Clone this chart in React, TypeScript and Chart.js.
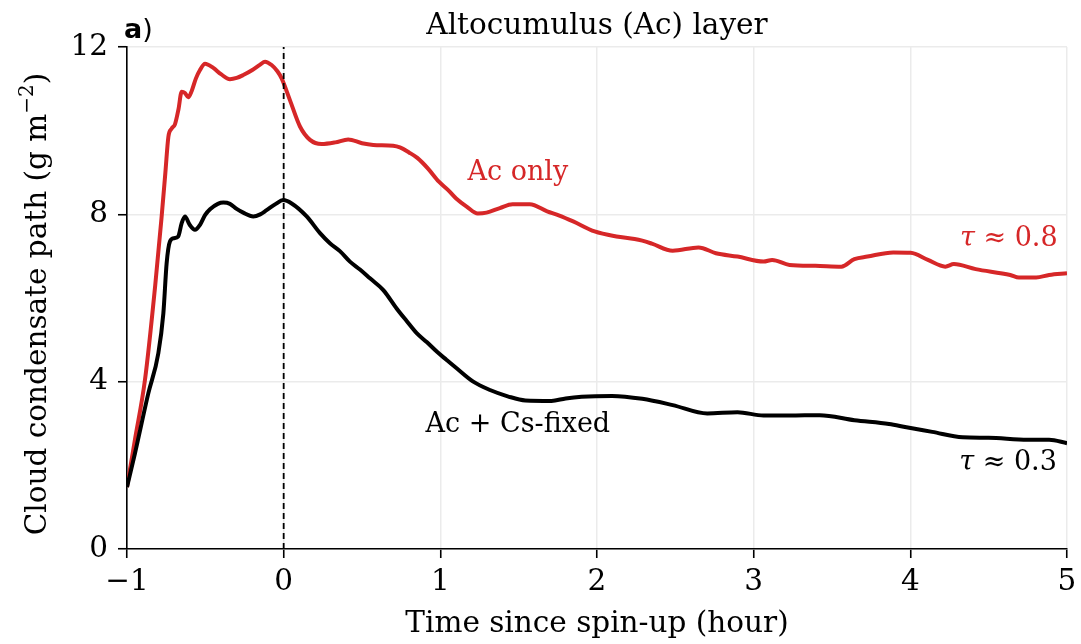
import React, { useEffect, useRef } from "react";
import { Chart, registerables } from "chart.js";

Chart.register(...registerables);

// Ac only (red)
const redTimes = [
  -1.0, -0.95, -0.885, -0.82, -0.78, -0.755, -0.736, -0.715, -0.694, -0.672, -0.651, -0.63, -0.609, -0.587,
  -0.56, -0.534, -0.502, -0.449, -0.4, -0.343, -0.3, -0.258, -0.2, -0.15, -0.119, -0.077, -0.04, -0.013,
  0.04, 0.104, 0.168, 0.242, 0.33, 0.412, 0.5, 0.572, 0.699, 0.742, 0.8, 0.853, 0.92, 0.991, 1.05, 1.101,
  1.17, 1.239, 1.295, 1.38, 1.461, 1.571, 1.682, 1.76, 1.848, 1.985, 2.124, 2.24, 2.289, 2.35, 2.483, 2.648,
  2.759, 2.897, 3.063, 3.118, 3.229, 3.394, 3.56, 3.643, 3.726, 3.891, 4.002, 4.112, 4.223, 4.278, 4.417,
  4.638, 4.693, 4.803, 4.886, 5.0,
];
const redValues = [
  1.48, 2.6, 4.05, 6.3, 7.9, 9.0, 9.85, 10.05, 10.15, 10.5, 10.93, 10.9, 10.8, 10.95,
  11.25, 11.45, 11.6, 11.5, 11.35, 11.23, 11.26, 11.33, 11.45, 11.58, 11.65, 11.57, 11.42, 11.25,
  10.73, 10.1, 9.78, 9.68, 9.72, 9.79, 9.7, 9.66, 9.64, 9.6, 9.48, 9.35, 9.1, 8.78, 8.58, 8.38,
  8.18, 8.02, 8.04, 8.15, 8.24, 8.24, 8.07, 7.97, 7.83, 7.59, 7.47, 7.41, 7.37, 7.3, 7.13, 7.21,
  7.07, 6.99, 6.87, 6.91, 6.79, 6.77, 6.75, 6.93, 6.99, 7.09, 7.08, 6.91, 6.75, 6.81, 6.69,
  6.55, 6.49, 6.49, 6.55, 6.59,
];

// Ac + Cs-fixed (black)
const blackTimes = [
  -1.0, -0.949, -0.864, -0.8, -0.768, -0.747, -0.726, -0.7, -0.673, -0.651, -0.63, -0.6, -0.566, -0.534,
  -0.502, -0.47, -0.42, -0.385, -0.343, -0.3, -0.258, -0.194, -0.15, -0.109, -0.05, -0.003, 0.051, 0.147,
  0.232, 0.295, 0.359, 0.423, 0.487, 0.551, 0.636, 0.721, 0.785, 0.849, 0.915, 0.977, 1.04, 1.104, 1.21,
  1.317, 1.43, 1.543, 1.709, 1.8, 1.902, 2.096, 2.289, 2.483, 2.704, 2.897, 3.063, 3.229, 3.422, 3.643,
  3.864, 3.975, 4.14, 4.334, 4.499, 4.748, 4.886, 5.0,
];
const blackValues = [
  1.48, 2.29, 3.72, 4.68, 5.63, 6.83, 7.35, 7.43, 7.47, 7.79, 7.95, 7.75, 7.63, 7.75,
  7.98, 8.12, 8.25, 8.28, 8.25, 8.13, 8.04, 7.95, 8.0, 8.1, 8.25, 8.34, 8.26, 7.95,
  7.55, 7.31, 7.12, 6.87, 6.68, 6.47, 6.19, 5.75, 5.45, 5.16, 4.94, 4.72, 4.52, 4.32, 4.0,
  3.8, 3.65, 3.55, 3.54, 3.6, 3.64, 3.66, 3.59, 3.44, 3.24, 3.27, 3.19, 3.19, 3.2, 3.08,
  2.99, 2.91, 2.8, 2.67, 2.66, 2.61, 2.61, 2.53,
];

// spin-up marker (dashed vertical line)
const spinupTimes = [0, 0];
const spinupValues = [0, 12];

// axis ticks
const xTicks = [-1, 0, 1, 2, 3, 4, 5];
const yTicks = [0, 4, 8, 12];

// text labels
const titleText = "Altocumulus (Ac) layer";
const xTitle = "Time since spin-up (hour)";
const yTitleMain = "Cloud condensate path (g m";
const yTitleSup = "−2";
const annotTexts = ["Ac only", "Ac + Cs-fixed"];
const annotX = [1.495, 1.495];
const annotY = [8.99, 2.96];
const annotColors = ["#d62728", "#000000"];
const tauValues = ["0.8", "0.3"];
const tauX = [4.94, 4.935];
const tauY = [7.4, 2.06];
const tauColors = ["#d62728", "#000000"];

const RED = "#d62728";
const SERIF = "'DejaVu Serif', serif";
const LABEL_SIZE = 29.5;

const toPts = (xs: number[], ys: number[]) => xs.map((x, i) => ({ x, y: ys[i] }));

export default function App() {
  const ref = useRef<HTMLCanvasElement>(null);
  useEffect(() => {
    const canvas = ref.current;
    if (!canvas) return;
    const textPlugin = {
      id: "textPlugin",
      afterDraw(chart: any) {
        const ctx = chart.ctx as CanvasRenderingContext2D;
        const xs = chart.scales.x;
        const ys = chart.scales.y;
        const ca = chart.chartArea;
        ctx.save();
        ctx.fillStyle = "#000";
        ctx.textBaseline = "middle";
        // title
        ctx.font = `${LABEL_SIZE}px ${SERIF}`;
        ctx.textAlign = "center";
        ctx.fillText(titleText, (ca.left + ca.right) / 2, 26);
        // panel label
        ctx.textAlign = "left";
        ctx.font = `bold 27px 'DejaVu Sans', sans-serif`;
        ctx.fillText("a", 124, 31);
        const aw = ctx.measureText("a").width;
        ctx.font = `27px 'DejaVu Sans', sans-serif`;
        ctx.fillText(")", 124 + aw, 31);
        // x title
        ctx.font = `${LABEL_SIZE}px ${SERIF}`;
        ctx.textAlign = "center";
        ctx.fillText(xTitle, (ca.left + ca.right) / 2, 624);
        // y title
        ctx.save();
        ctx.translate(38, (ca.top + ca.bottom) / 2 + 6);
        ctx.rotate(-Math.PI / 2);
        ctx.font = `${LABEL_SIZE}px ${SERIF}`;
        const mw = ctx.measureText(yTitleMain).width;
        ctx.font = `20px ${SERIF}`;
        const sw = ctx.measureText(yTitleSup).width;
        ctx.font = `${LABEL_SIZE}px ${SERIF}`;
        const pw = ctx.measureText(")").width;
        const total = mw + sw + pw;
        let px = -total / 2;
        ctx.textAlign = "left";
        ctx.fillText(yTitleMain, px, 0);
        px += mw;
        ctx.font = `20px ${SERIF}`;
        ctx.fillText(yTitleSup, px, -10);
        px += sw;
        ctx.font = `${LABEL_SIZE}px ${SERIF}`;
        ctx.fillText(")", px, 0);
        ctx.restore();
        // annotations
        ctx.font = `27px ${SERIF}`;
        ctx.textAlign = "center";
        annotTexts.forEach((t, i) => {
          ctx.fillStyle = annotColors[i];
          ctx.fillText(t, xs.getPixelForValue(annotX[i]), ys.getPixelForValue(annotY[i]));
        });
        // tau labels (right aligned)
        tauValues.forEach((v, i) => {
          const right = xs.getPixelForValue(tauX[i]);
          const yy = ys.getPixelForValue(tauY[i]);
          ctx.fillStyle = tauColors[i];
          ctx.font = `27px ${SERIF}`;
          const rest = " ≈ " + v;
          const rw = ctx.measureText(rest).width;
          ctx.textAlign = "left";
          ctx.fillText(rest, right - rw, yy);
          ctx.font = `italic 27px ${SERIF}`;
          const tw = ctx.measureText("τ").width;
          ctx.fillText("τ", right - rw - tw, yy);
        });
        ctx.restore();
      },
    };

    const chart = new Chart(canvas, {
      type: "line",
      data: {
        datasets: [
          {
            data: toPts(spinupTimes, spinupValues),
            borderColor: "#000",
            borderWidth: 1.8,
            borderDash: [6, 4],
            pointRadius: 0,
          },
          {
            data: toPts(blackTimes, blackValues),
            borderColor: "#000",
            borderWidth: 4,
            pointRadius: 0,
            cubicInterpolationMode: "monotone",
          },
          {
            data: toPts(redTimes, redValues),
            borderColor: RED,
            borderWidth: 4,
            pointRadius: 0,
            cubicInterpolationMode: "monotone",
          },
        ],
      },
      options: {
        animation: false,
        responsive: false,
        devicePixelRatio: 1,
        layout: { padding: { left: 0, right: 14, top: 47, bottom: 0 } },
        plugins: { legend: { display: false }, tooltip: { enabled: false }, title: { display: false } },
        scales: {
          x: {
            type: "linear",
            min: -1,
            max: 5,
            afterFit: (s: any) => {
              s.height = 95;
              s.paddingLeft = 0;
              s.paddingRight = 0;
            },
            afterBuildTicks: (s: any) => {
              s.ticks = xTicks.map((v) => ({ value: v }));
            },
            ticks: {
              color: "#000",
              font: { family: SERIF, size: LABEL_SIZE },
              padding: 7,
              maxRotation: 0,
              autoSkip: false,
              callback: (v: any) => String(v).replace("-", "−"),
            },
            grid: { color: "#ebebeb", lineWidth: 1.5, tickColor: "#000", tickLength: 9, tickWidth: 1.6 },
            border: { display: true, color: "#000", width: 1.6 },
          },
          y: {
            type: "linear",
            min: 0,
            max: 12,
            afterFit: (s: any) => {
              s.width = 127;
              s.paddingTop = 0;
              s.paddingBottom = 0;
            },
            afterBuildTicks: (s: any) => {
              s.ticks = yTicks.map((v) => ({ value: v }));
            },
            ticks: {
              color: "#000",
              font: { family: SERIF, size: LABEL_SIZE },
              padding: 10,
              autoSkip: false,
            },
            grid: { color: "#ebebeb", lineWidth: 1.5, tickColor: "#000", tickLength: 9, tickWidth: 1.6 },
            border: { display: true, color: "#000", width: 1.6 },
          },
        },
      },
      plugins: [textPlugin],
    } as any);
    return () => chart.destroy();
  }, []);
  return (
    <div style={{ position: "fixed", left: 0, top: 0, width: 1081, height: 644, background: "#fff" }}>
      <canvas ref={ref} width={1081} height={644} style={{ width: 1081, height: 644, display: "block" }} />
    </div>
  );
}
